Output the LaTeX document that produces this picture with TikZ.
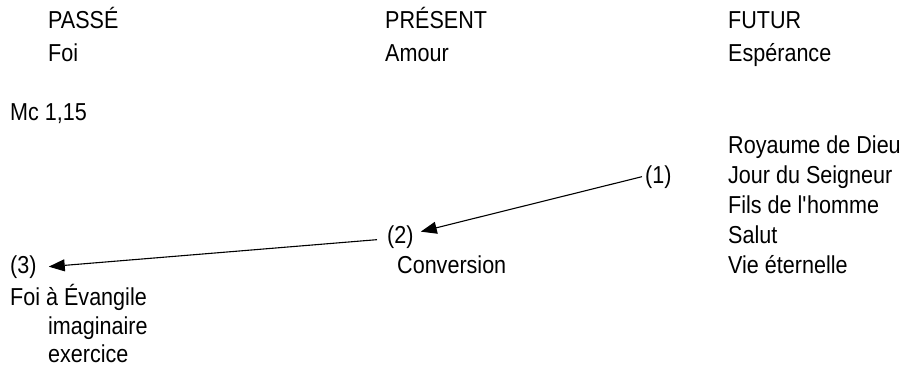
\documentclass[tikz,border=0pt]{standalone}
\usepackage{fontspec}
\setmainfont[FakeStretch=0.88]{Liberation Sans}
\usetikzlibrary{arrows.meta}
\begin{document}
\begin{tikzpicture}[x=1pt,y=-1pt,
  txt/.style={inner sep=0pt, anchor=base west, font=\fontsize{24.5}{30}\selectfont},
  arr/.style={line width=1.1pt, -{Triangle[length=16pt,width=12pt]}}]
\useasboundingbox (0,0) rectangle (903,368);
% column headings
\node[txt] (passe) at (48,28) {PASSÉ};
\node[txt] (foi) at (48,61) {Foi};
\node[txt] (present) at (385,28) {PRÉSENT};
\node[txt] (amour) at (385,61) {Amour};
\node[txt] (futur) at (728,28) {FUTUR};
\node[txt] (esperance) at (728,61) {Espérance};
\node[txt] (mc) at (10,120) {Mc 1,15};
% future list
\node[txt] (royaume) at (728,153) {Royaume de Dieu};
\node[txt] (jour) at (728,183) {Jour du Seigneur};
\node[txt] (fils) at (728,213) {Fils de l\textquotesingle homme};
\node[txt] (salut) at (728,243) {Salut};
\node[txt] (vie) at (728,273) {Vie éternelle};
% numbered points
\node[txt] (one) at (645,183) {(1)};
\node[txt] (two) at (387,243) {(2)};
\node[txt] (conv) at (397,273) {Conversion};
\node[txt] (three) at (10,273) {(3)};
\node[txt] (foiev) at (10,305) {Foi à Évangile};
\node[txt] (imag) at (48,334) {imaginaire};
\node[txt] (exer) at (48,362) {exercice};
% arrows
\draw[arr] ([xshift=-3pt]one.west) -- ([xshift=7pt,yshift=5pt]two.east);
\draw[arr] ([xshift=-10pt,yshift=-3pt]two.west) -- ([xshift=12pt]three.east);
\end{tikzpicture}
\end{document}
